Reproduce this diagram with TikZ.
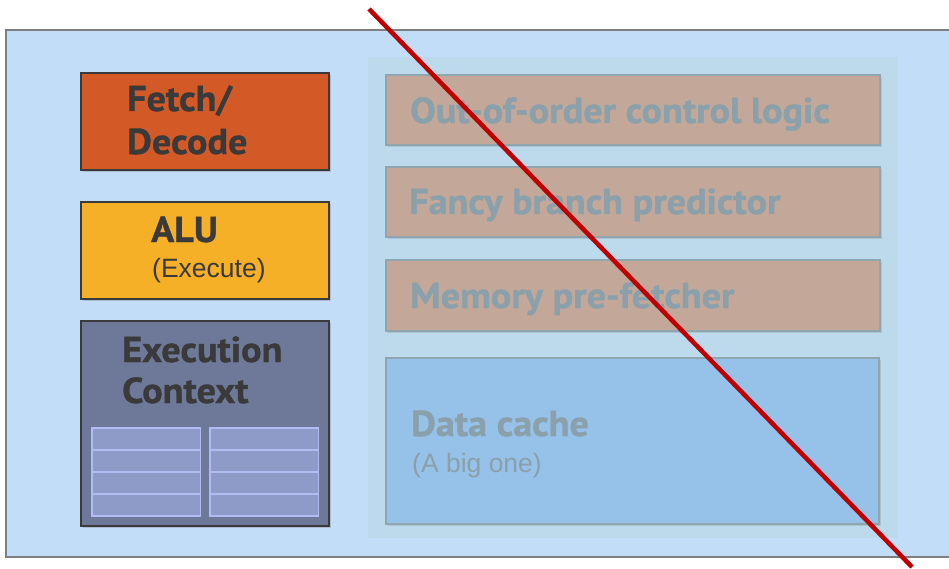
\documentclass[tikz,border=0pt]{standalone}
\usepackage{fontspec}
\newfontfamily\hdfont{PT Sans}[FakeStretch=1.06,FakeBold=1]
\newfontfamily\plainfont{Liberation Sans}
\usetikzlibrary{shadows}
\definecolor{chipbg}{HTML}{C2DDF7}
\definecolor{chipedge}{HTML}{7F7F7F}
\definecolor{panelbg}{HTML}{BCDAEB}
\definecolor{fetchfill}{HTML}{D35A27}
\definecolor{alufill}{HTML}{F5B027}
\definecolor{ctxfill}{HTML}{6E7898}
\definecolor{regfill}{HTML}{8E9AC8}
\definecolor{regedge}{HTML}{B2BCF2}
\definecolor{darkedge}{HTML}{3A3A3A}
\definecolor{darktext}{HTML}{3A3A3A}
\definecolor{tanfill}{HTML}{C3A89A}
\definecolor{cachefill}{HTML}{96C1E8}
\definecolor{fadeedge}{HTML}{8FA5B0}
\definecolor{fadetext}{HTML}{8AA0AA}
\definecolor{strike}{HTML}{C00000}
\begin{document}
\begin{tikzpicture}[x=1pt,y=-1pt,
  unit/.style={draw=darkedge,line width=1.5pt,
    drop shadow={shadow xshift=2pt,shadow yshift=-2pt,opacity=0.35}},
  extra/.style={draw=fadeedge,line width=1.5pt,fill=tanfill,
    drop shadow={shadow xshift=2pt,shadow yshift=-2pt,opacity=0.25}},
  boldlbl/.style={anchor=base west,inner sep=0pt,text=darktext,
    font=\hdfont\bfseries\fontsize{36}{36}\selectfont},
  fadelbl/.style={anchor=base west,inner sep=0pt,text=fadetext,
    font=\hdfont\bfseries\fontsize{36}{36}\selectfont},
  smalllbl/.style={anchor=base west,inner sep=0pt,
    font=\plainfont\fontsize{26.5}{26.5}\selectfont},
  reg/.style={draw=regedge,line width=1.2pt,fill=regfill}]
\useasboundingbox (0,0) rectangle (949,569);
\clip (0,0) rectangle (949,569);
\fill[white] (0,0) rectangle (949,569);

% chip outline and the shaded panel of discarded units
\draw[chipedge,line width=1.5pt,fill=chipbg] (6,30) rectangle (960,557);
\fill[panelbg] (368,57) rectangle (898,538);

% core units
\draw[unit,fill=fetchfill] (81,73) rectangle (329,170);
\node[boldlbl] (fetch) at (127,111) {Fetch/};
\node[boldlbl] (decode) at (127,154) {Decode};

\draw[unit,fill=alufill] (81,202) rectangle (329,299);
\node[boldlbl] (alu) at (151,242) {ALU};
\node[smalllbl,text=darktext] (exec) at (152,277) {(Execute)};

\draw[unit,fill=ctxfill] (81,321) rectangle (329,526);
\node[boldlbl] (ctx1) at (122,362) {Execution};
\node[boldlbl] (ctx2) at (122,403) {Context};

% register files
\foreach \x in {92,210}{
  \foreach \y in {428,450,472,494}{
    \draw[reg] (\x,\y) rectangle ++(108.5,22);
  }
}

% units removed from the simple core
\draw[extra] (386,75) rectangle (880,145);
\node[fadelbl] (ooo) at (410,123) {Out-of-order control logic};
\draw[extra] (386,167) rectangle (880,237);
\node[fadelbl] (bp) at (409,214) {Fancy branch predictor};
\draw[extra] (386,260) rectangle (880,331);
\node[fadelbl] (pf) at (410,308) {Memory pre-fetcher};
\draw[extra,fill=cachefill] (386,358) rectangle (879,524);
\node[fadelbl] (dc) at (411,436) {Data cache};
\node[smalllbl,text=fadetext] (dcsub) at (412,472) {(A big one)};

% strike-through
\coordinate (s1) at (369,9);
\coordinate (s2) at (912,567);
\draw[strike,line width=4.5pt] (s1) -- (s2);
\end{tikzpicture}
\end{document}
